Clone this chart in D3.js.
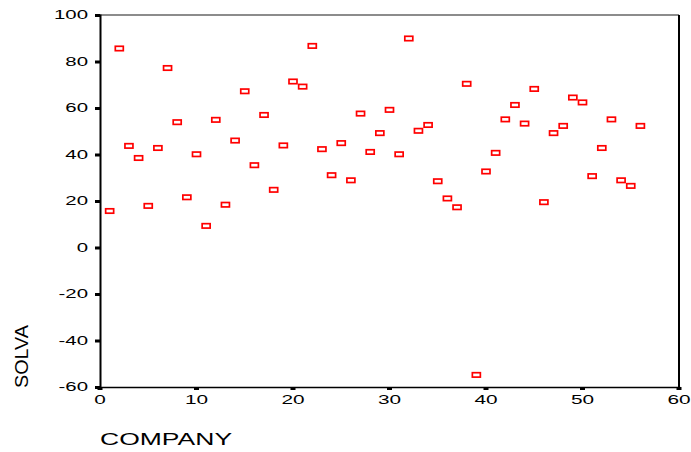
<!DOCTYPE html>
<html>
<head>
<meta charset="utf-8">
<script src="https://cdn.jsdelivr.net/npm/d3@7"></script>
<style>
  body { margin: 0; background: #fff; }
  svg { display: block; font-family: "Liberation Sans", Arial, sans-serif; }
</style>
</head>
<body>
<div id="chart"></div>
<script>
// company index and SOLVA value
const company = [
  1, 2, 3, 4, 5, 6, 7, 8, 9, 10, 11, 12, 13, 14,
  15, 16, 17, 18, 19, 20, 21, 22, 23, 24, 25, 26, 27, 28,
  29, 30, 31, 32, 33, 34, 35, 36, 37, 38, 39, 40, 41, 42,
  43, 44, 45, 46, 47, 48, 49, 50, 51, 52, 53, 54, 55, 56
]
const solva = [
  15.7, 85.6, 43.7, 38.5, 17.9, 42.8, 77.2, 53.9, 21.6, 40.1, 9.3, 54.9, 18.4, 46.0,
  67.2, 35.4, 57.0, 24.8, 43.9, 71.4, 69.2, 86.7, 42.3, 31.1, 44.9, 28.9, 57.6, 41.1,
  49.2, 59.2, 40.1, 89.9, 50.2, 52.7, 28.5, 21.1, 17.3, 70.4, -54.8, 32.7, 40.7, 55.1,
  61.3, 53.3, 68.2, 19.5, 49.2, 52.3, 64.5, 62.4, 30.7, 42.8, 55.1, 28.9, 26.5, 52.3
]
const xTicks = [0, 10, 20, 30, 40, 50, 60]
const yTicks = [-60, -40, -20, 0, 20, 40, 60, 80, 100]

const width = 691, height = 452
const plotLeft = 100, plotRight = 679, plotTop = 15, plotBottom = 387

const svg = d3.select("#chart").append("svg")
  .attr("width", width)
  .attr("height", height)

let x = d3.scaleLinear().domain([0, 60]).range([plotLeft, plotRight])
let y = d3.scaleLinear().domain([-60, 100]).range([plotBottom, plotTop])

// plain hyphen for negatives, like the original
const fmt = d => String(d)

// frame
svg.append("line").attr("x1", plotLeft).attr("x2", plotRight).attr("y1", plotTop).attr("y2", plotTop)
  .attr("stroke", "#666").attr("stroke-width", 1.5)
svg.append("line").attr("x1", plotRight).attr("x2", plotRight).attr("y1", plotTop).attr("y2", plotBottom)
  .attr("stroke", "#000").attr("stroke-width", 2)

// y axis
const yAxis = svg.append("g")
  .attr("transform", `translate(${plotLeft},0)`)
  .call(d3.axisLeft(y).tickValues(yTicks).tickFormat(fmt).tickSize(5).tickPadding(7))
yAxis.select(".domain").attr("stroke-width", 2)
yAxis.selectAll(".tick line").attr("stroke-width", 3)
yAxis.selectAll(".tick text")
  .attr("font-size", 12)
  .attr("fill", "#000")
  .attr("x", -12 / 1.7)
  .attr("transform", "scale(1.7,1)")

// x axis
const xAxis = svg.append("g")
  .attr("transform", `translate(0,${plotBottom})`)
  .call(d3.axisBottom(x).tickValues(xTicks).tickFormat(fmt).tickSize(3).tickPadding(5))
xAxis.select(".domain").attr("stroke-width", 1.5)
xAxis.selectAll(".tick line").attr("stroke-width", 5)
xAxis.selectAll(".tick").each(function(d) {
  const g = d3.select(this)
  g.attr("transform", null)
  g.select("line").attr("x1", x(d)).attr("x2", x(d))
  g.select("text")
    .attr("font-size", 13)
    .attr("fill", "#000")
    .attr("x", x(d) / 1.6)
    .attr("transform", "scale(1.6,1)")
})

// axis titles
svg.append("text")
  .attr("transform", "translate(100,445) scale(1.56,1)")
  .attr("font-size", 17)
  .text("COMPANY")

svg.append("text")
  .attr("transform", "translate(28,388) rotate(-90)")
  .attr("font-size", 18)
  .attr("textLength", 63)
  .attr("lengthAdjust", "spacingAndGlyphs")
  .text("SOLVA")

// points
svg.append("g")
  .selectAll("rect")
  .data(d3.zip(company, solva))
  .join("rect")
  .attr("x", d => x(d[0]) - 4)
  .attr("y", d => y(d[1]) - 2.2)
  .attr("width", 8)
  .attr("height", 4.4)
  .attr("fill", "#fff")
  .attr("stroke", "#ff0000")
  .attr("stroke-width", 1.7)
</script>
</body>
</html>
